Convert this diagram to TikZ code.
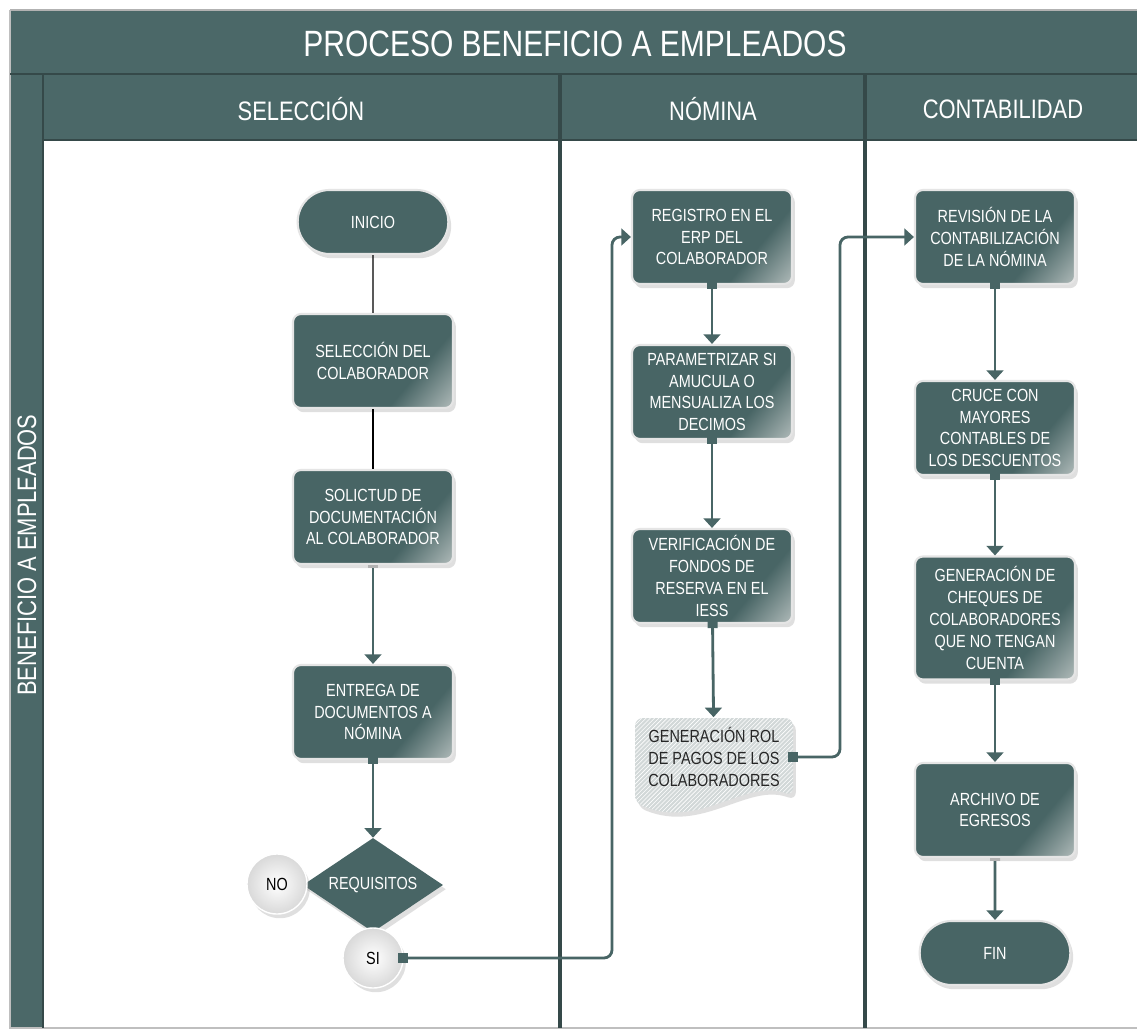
\documentclass[tikz,border=0pt]{standalone}
\usepackage{fontspec}
\setmainfont{Liberation Sans}[FakeStretch=0.82]
\usetikzlibrary{arrows.meta,shapes.geometric,shapes.misc,shadows,patterns}

\definecolor{laneteal}{HTML}{4B6868}
\definecolor{boxteal}{HTML}{486565}
\definecolor{boxlite}{HTML}{A9B5B4}
\definecolor{darkline}{HTML}{354949}
\definecolor{rolgray}{HTML}{D2D8D8}

\pgfdeclarehorizontalshading{tealcorner}{100bp}{color(0bp)=(boxteal);
    color(66bp)=(boxteal); color(84bp)=(boxlite); color(100bp)=(boxlite)}

\begin{document}
\begin{tikzpicture}[x=0.025cm, y=-0.025cm,
    procbox/.style = {rectangle, rounded corners=0.2cm, draw=gray!20,
        line width=1.5pt, shading=tealcorner, shading angle=-40,
        text=white, align=center,
        minimum width=4cm, minimum height=2.35cm, inner sep=2pt,
        font=\fontsize{12.5}{15.5}\selectfont,
        drop shadow={opacity=0.25, shadow xshift=2pt, shadow yshift=-3pt}},
    endbox/.style = {rounded rectangle, draw=gray!20, line width=1.5pt,
        fill=boxteal, text=white, minimum width=4cm, minimum height=1.6cm,
        font=\fontsize{12.5}{15.5}\selectfont,
        drop shadow={opacity=0.25, shadow xshift=2pt, shadow yshift=-3pt}},
    choice/.style = {diamond, aspect=1.5, fill=boxteal, text=white,
        inner sep=0pt, minimum width=3.5cm, minimum height=2.35cm,
        font=\fontsize{12.5}{15.5}\selectfont,
        drop shadow={opacity=0.25, shadow xshift=2pt, shadow yshift=-3pt}},
    answer/.style = {circle, inner color=white, outer color=gray!30,
        draw=white, line width=1pt, minimum size=1.5cm,
        font=\fontsize{12.5}{15.5}\selectfont,
        drop shadow={opacity=0.25, shadow xshift=2pt, shadow yshift=-3pt}},
    rolbox/.style = {rectangle, align=center, text=black!85,
        minimum width=4cm, minimum height=1.975cm,
        font=\fontsize{12.5}{15.5}\selectfont},
    lanetitle/.style = {text=white, font=\fontsize{19}{22}\selectfont},
    plain/.style = {draw=black, line width=0.8pt},
    flow/.style = {draw=boxteal, line width=2pt,
        -{Triangle[width=0.42cm,length=0.24cm]}},
    sqflow/.style = {flow, shorten <=-1.5mm,
        {Square[length=0.25cm,width=0.25cm]}-{Triangle[width=0.42cm,length=0.24cm]}},
    barflow/.style = {flow,
        {Bar[width=0.25cm,color=gray!60]}-{Triangle[width=0.42cm,length=0.24cm]}}]

    \useasboundingbox (0,0) rectangle (1137,1031);
    \fill[white] (0,0) rectangle (1137,1031);

    % swimlanes
    \fill[laneteal] (10,10) rectangle (1137,140);
    \fill[laneteal] (10,140) rectangle (43,1028);
    \draw[gray!60, line width=1pt] (10,10) -- (1137,10);
    \draw[gray!50, line width=1pt] (10,10) -- (10,1028) -- (1137,1028);
    \draw[darkline, line width=2pt] (10,74) -- (1137,74);
    \draw[darkline, line width=2pt] (43,140) -- (1137,140);
    \draw[darkline, line width=2pt] (43,74) -- (43,1028);
    \draw[darkline, line width=2.5pt] (560,74) -- (560,1028);
    \draw[darkline, line width=2.5pt] (865,74) -- (865,1028);

    \node[text=white, font=\fontsize{26}{29}\selectfont] (titulo) at (575,44)
        {PROCESO BENEFICIO A EMPLEADOS};
    \node[lanetitle] (hsel) at (301,109) {SELECCIÓN};
    \node[lanetitle] (hnom) at (713,109) {NÓMINA};
    \node[lanetitle] (hcon) at (1003,109) {CONTABILIDAD};
    \node[lanetitle, rotate=90] (hpool) at (27,555) {BENEFICIO A EMPLEADOS};

    % seleccion
    \node[endbox] (inicio) at (373,222) {INICIO};
    \node[procbox] (selec) at (373,361) {SELECCIÓN DEL\\COLABORADOR};
    \node[procbox] (solic) at (373,517) {SOLICTUD DE\\DOCUMENTACIÓN\\AL COLABORADOR};
    \node[procbox] (entrega) at (373,712) {ENTREGA DE\\DOCUMENTOS A\\NÓMINA};
    \node[choice] (req) at (373,885) {REQUISITOS};
    \node[answer] (no) at (277,884) {NO};
    \node[answer] (si) at (373,958) {SI};

    % nomina
    \node[procbox] (reg) at (712,237) {REGISTRO EN EL\\ERP DEL\\COLABORADOR};
    \node[procbox] (param) at (712,392) {PARAMETRIZAR SI\\AMUCULA O\\MENSUALIZA LOS\\DECIMOS};
    \node[procbox] (verif) at (712,576) {VERIFICACIÓN DE\\FONDOS DE\\RESERVA EN EL\\IESS};
    \path[fill=rolgray, rounded corners=0.2cm,
          drop shadow={opacity=0.25, shadow xshift=2pt, shadow yshift=-3pt}]
        (635,803) -- (635,718) -- (793,718) -- (793,796)
        .. controls (745,778) and (700,830) .. (635,803) -- cycle;
    \path[pattern=north east lines, pattern color=white, rounded corners=0.2cm]
        (635,803) -- (635,718) -- (793,718) -- (793,796)
        .. controls (745,778) and (700,830) .. (635,803) -- cycle;
    \node[rolbox] (rol) at (714,757) {GENERACIÓN ROL\\DE PAGOS DE LOS\\COLABORADORES};
    \coordinate (jogA) at (612,600);
    \coordinate (jogB) at (840,500);

    % contabilidad
    \node[procbox] (rev) at (995,237) {REVISIÓN DE LA\\CONTABILIZACIÓN\\DE LA NÓMINA};
    \node[procbox] (cruce) at (995,428) {CRUCE CON\\MAYORES\\CONTABLES DE\\LOS DESCUENTOS};
    \node[procbox, minimum height=3.075cm] (cheq) at (995,618)
        {GENERACIÓN DE\\CHEQUES DE\\COLABORADORES\\QUE NO TENGAN\\CUENTA};
    \node[procbox] (arch) at (995,810) {ARCHIVO DE\\EGRESOS};
    \node[endbox] (fin) at (995,953) {FIN};

    \path
        (inicio) edge[plain] (selec)
        (selec) edge[plain] (solic)
        (solic) edge[barflow] (entrega)
        (entrega) edge[sqflow] (req)
        (reg) edge[sqflow] (param)
        (param) edge[sqflow] (verif)
        (verif) edge[sqflow] (rol)
        (rev) edge[sqflow] (cruce)
        (cruce) edge[sqflow] (cheq)
        (cheq) edge[sqflow] (arch)
        (arch) edge[barflow] (fin);
    \draw[sqflow, rounded corners=0.2cm] (si.east) -| (jogA) |- (reg.west);
    \draw[sqflow, rounded corners=0.2cm] (rol.east) -| (jogB) |- (rev.west);
\end{tikzpicture}
\end{document}
